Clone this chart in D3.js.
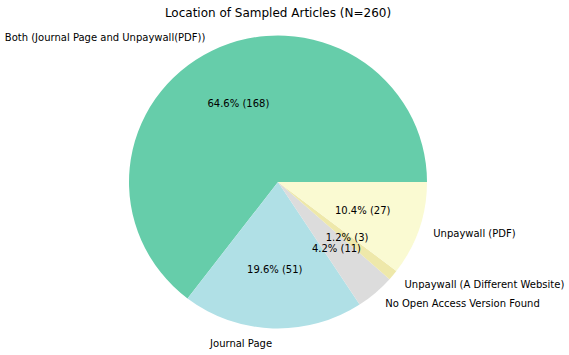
<!DOCTYPE html>
<html>
<head>
<meta charset="utf-8">
<title>Location of Sampled Articles</title>
<script src="https://d3js.org/d3.v7.min.js"></script>
<style>
    html, body { margin: 0; padding: 0; background: white; }
    svg text { font-family: "DejaVu Sans", sans-serif; fill: #000; }
</style>
</head>
<body>
<div id="graph"></div>
<script>
    // data, in the order the wedges are drawn (counter-clockwise from 3 o'clock)
    var labels = ["Both (Journal Page and Unpaywall(PDF))", "Journal Page", "No Open Access Version Found",
                  "Unpaywall (A Different Website)", "Unpaywall (PDF)"];
    var counts = [168, 51, 11, 3, 27];
    var colors = ["#66cdaa", "#b0e0e6", "#dcdcdc", "#eee8aa", "#fafad2"];
    var titleText = "Location of Sampled Articles (N=260)";

    var width = 569, height = 355;
    var cx = 278, cy = 182, rx = 149, ry = 146.5; // pie is a touch squashed in the original

    var total = d3.sum(counts);
    var data = labels.map(function(l, i) { return {label: l, count: counts[i], color: colors[i]}; });

    var svg = d3.select("#graph").append("svg")
        .attr("width", width)
        .attr("height", height);

    // matplotlib style: start at 3 o'clock and go counter-clockwise
    var pie = d3.pie()
        .sort(null)
        .value(function(d) { return d.count; })
        .startAngle(Math.PI / 2)
        .endAngle(Math.PI / 2 - 2 * Math.PI);

    var arcs = pie(data);

    var wedgeArc = d3.arc().innerRadius(0).outerRadius(rx);
    var unit = function(r) { return d3.arc().innerRadius(r).outerRadius(r); };

    var g = svg.append("g")
        .attr("transform", "translate(" + cx + "," + cy + ") scale(1," + (ry / rx) + ")");

    g.selectAll("path")
        .data(arcs)
        .enter()
        .append("path")
        .attr("d", wedgeArc)
        .attr("fill", function(d) { return d.data.color; });

    var labelArc = unit(1.1), pctArc = unit(0.6);
    var fmt = d3.format(".1f");

    //outer labels
    svg.selectAll(".lbl")
        .data(arcs)
        .enter()
        .append("text")
        .attr("class", "lbl")
        .attr("x", function(d) { return cx + labelArc.centroid(d)[0] * rx; })
        .attr("y", function(d) { return cy + labelArc.centroid(d)[1] * ry; })
        .attr("dy", "0.35em")
        .attr("text-anchor", function(d) { return labelArc.centroid(d)[0] > 0 ? "start" : "end"; })
        .style("font-size", "10px")
        .text(function(d) { return d.data.label; });

    //percentages
    svg.selectAll(".pct")
        .data(arcs)
        .enter()
        .append("text")
        .attr("class", "pct")
        .attr("x", function(d) { return cx + pctArc.centroid(d)[0] * rx; })
        .attr("y", function(d) { return cy + pctArc.centroid(d)[1] * ry; })
        .attr("dy", "0.35em")
        .attr("text-anchor", "middle")
        .style("font-size", "10px")
        .text(function(d) { return fmt(d.data.count / total * 100) + "% (" + d.data.count + ")"; });

    svg.append("text")
        .attr("x", cx)
        .attr("y", 17)
        .attr("text-anchor", "middle")
        .style("font-size", "12px")
        .text(titleText);
</script>
</body>
</html>
